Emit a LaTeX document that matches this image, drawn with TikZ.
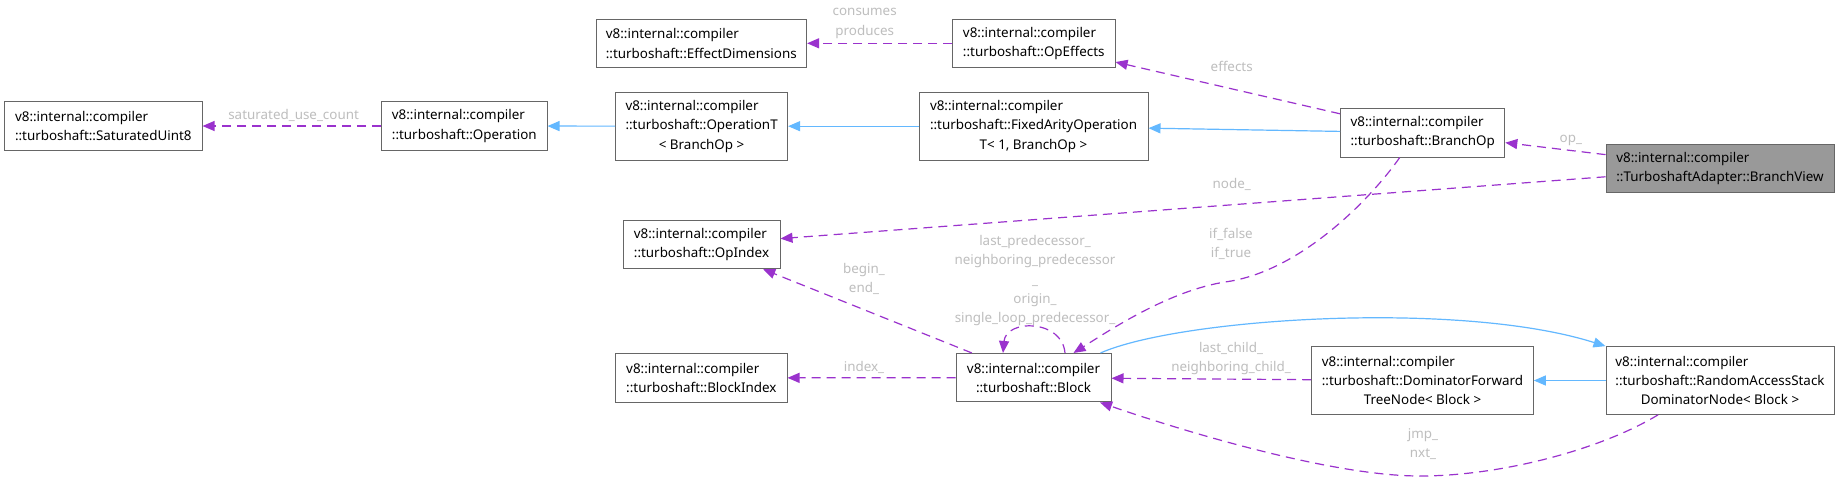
\documentclass[tikz,border=0pt]{standalone}
\usepackage{fontspec}
\setmainfont{Noto Sans}
\usetikzlibrary{arrows.meta}

\begin{document}
\begin{tikzpicture}[x=1pt,y=-1pt,font=\fontsize{13.4}{19.4}\selectfont,
  cls/.style={draw=rim,line width=1pt,fill=white,align=left,inner sep=0pt,minimum height=48.5pt},
  clsiii/.style={cls,minimum height=67.7pt},
  member/.style={draw=usage,line width=1.2pt,dash pattern=on 9pt off 6pt,-{Triangle[length=12pt,width=10pt]}},
  parent/.style={draw=inherit,line width=1.2pt,-{Triangle[length=12pt,width=10pt]}},
  lbl/.style={text=note,align=center,inner sep=0pt}]
\definecolor{rim}{HTML}{666666}\definecolor{focus}{HTML}{999999}
\definecolor{usage}{HTML}{9A32CD}\definecolor{inherit}{HTML}{63B8FF}
\definecolor{note}{HTML}{BEBEBE}
\useasboundingbox[fill=white] (0,0) rectangle (1839,483);
\node[cls,minimum width=197.5pt] (satu) at (103.3,126) {v8::internal::compiler\\::turboshaft::SaturatedUint8};
\node[cls,minimum width=165.4pt] (oper) at (464.3,126) {v8::internal::compiler\\::turboshaft::Operation};
\node[cls,minimum width=210.6pt] (effdim) at (701.3,43.3) {v8::internal::compiler\\::turboshaft::EffectDimensions};
\node[cls,minimum width=162.5pt] (opeff) at (1033.8,43.3) {v8::internal::compiler\\::turboshaft::OpEffects};
\node[clsiii,minimum width=172pt] (operT) at (701.6,126.2) {v8::internal::compiler\\::turboshaft::OperationT\\\hfill< BranchOp >\hfill\null};
\node[clsiii,minimum width=229pt] (fixed) at (1033.5,126.2) {v8::internal::compiler\\::turboshaft::FixedArityOperation\\\hfill T< 1, BranchOp >\hfill\null};
\node[cls,minimum width=164.2pt] (branch) at (1422.7,132.8) {v8::internal::compiler\\::turboshaft::BranchOp};
\node[cls,fill=focus,minimum width=228pt] (view) at (1720,168.3) {v8::internal::compiler\\::TurboshaftAdapter::BranchView};
\node[cls,minimum width=157pt] (opidx) at (701.5,244.5) {v8::internal::compiler\\::turboshaft::OpIndex};
\node[cls,minimum width=171.2pt] (blkidx) at (701.4,377.9) {v8::internal::compiler\\::turboshaft::BlockIndex};
\node[cls,minimum width=155pt] (block) at (1033.5,377.7) {v8::internal::compiler\\\hfill::turboshaft::Block\hfill\null};
\node[clsiii,minimum width=221.6pt] (domfwd) at (1422.5,380.5) {v8::internal::compiler\\::turboshaft::DominatorForward\\\hfill TreeNode< Block >\hfill\null};
\node[clsiii,minimum width=228pt] (ras) at (1720,380.5) {v8::internal::compiler\\::turboshaft::RandomAccessStack\\\hfill DominatorNode< Block >\hfill\null};
\draw[member] (oper) -- (satu);
\draw[member] (opeff) -- (effdim);
\draw[parent] (operT) -- (oper);
\draw[parent] (fixed) -- (operT);
\draw[parent] (branch) -- (fixed);
\draw[member] (branch) -- (opeff);
\draw[member] (view) -- (branch);
\draw[member] (view) -- (opidx);
\draw[member] (block) -- (opidx);
\draw[member] (block) -- (blkidx);
\draw[member] ([xshift=31.5pt]block.north) .. controls +(-3,-34) and +(3,-34) .. ([xshift=-30.5pt]block.north);
\draw[member] ([xshift=-23pt]branch.south) .. controls (1370,200) and (1300,271) .. (1227,281.7) .. controls (1170,290) and (1110,330) .. ([xshift=40pt]block.north);
\draw[parent] ([xshift=-11pt]block.north east) .. controls (1180,318) and (1460,300) .. (ras.north west);
\draw[parent] (ras) -- (domfwd);
\draw[member] (domfwd) -- (block);
\draw[member] ([xshift=-62pt]ras.south) .. controls (1600,450) and (1500,476) .. (1420,476) .. controls (1330,476) and (1180,430) .. ([xshift=66.5pt]block.south);
\node[lbl] (lsat) at (293.6,115.5) {saturated\_use\_count};
\node[lbl] (lcons) at (864.7,23.4) {consumes\\produces};
\node[lbl] (leff) at (1231.7,66) {effects};
\node[lbl] (lop) at (1570.8,140) {op\_};
\node[lbl] (lnode) at (1231.7,184) {node\_};
\node[lbl] (lbeg) at (864,279.2) {begin\_\\end\_};
\node[lbl] (lidx) at (864,367) {index\_};
\node[lbl] (lpred) at (1035,280.7) {last\_predecessor\_\\neighboring\_predecessor\\\_\\origin\_\\single\_loop\_predecessor\_};
\node[lbl] (lif) at (1231,243.8) {if\_false\\if\_true};
\node[lbl] (lchild) at (1231,358.8) {last\_child\_\\neighboring\_child\_};
\node[lbl] (ljmp) at (1423,444.2) {jmp\_\\nxt\_};
\end{tikzpicture}
\end{document}
